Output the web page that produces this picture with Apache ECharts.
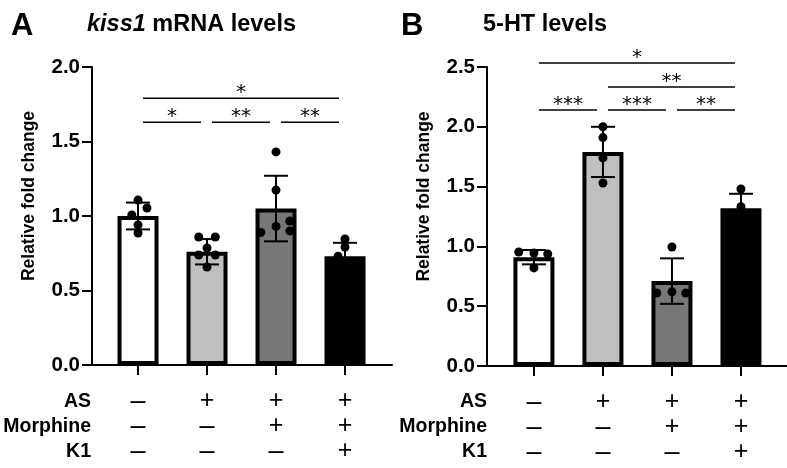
<!DOCTYPE html>
<html><head><meta charset="utf-8">
<script src="https://cdn.jsdelivr.net/npm/echarts@6/dist/echarts.min.js"></script>
<style>html,body{margin:0;padding:0;background:#fff}#c{width:787px;height:468px}</style>
</head><body><div id="c"></div>
<script>
// ---------- data ----------
const groups = [0, 1, 2, 3];
const rowNames = ['AS', 'Morphine', 'K1'];
const asRow = ['-', '+', '+', '+'];
const morphineRow = ['-', '-', '+', '+'];
const k1Row = ['-', '-', '-', '+'];

const titleA = 'kiss1 mRNA levels';
const titleB = '5-HT levels';
const yTickLabelsA = ['0.0', '0.5', '1.0', '1.5', '2.0'];
const yTickLabelsB = ['0.0', '0.5', '1.0', '1.5', '2.0', '2.5'];

const meanA = [1.00, 0.76, 1.05, 0.73];
const errA = [0.09, 0.085, 0.22, 0.09];
// [group, jitter, value]
const dotsA = [
  [0, 0, 1.107], [0, 0.13, 1.054], [0, -0.09, 1.007], [0, 0, 0.94], [0, 0, 0.886],
  [1, -0.12, 0.859], [1, 0.12, 0.859], [1, 0, 0.785], [1, -0.12, 0.738], [1, 0.12, 0.738], [1, 0, 0.658],
  [2, 0, 1.43], [2, 0, 1.174], [2, 0.2, 0.966], [2, 0, 0.93], [2, 0.2, 0.9], [2, -0.22, 0.89],
  [3, 0, 0.846], [3, 0, 0.792], [3, -0.1, 0.73], [3, 0.1, 0.66], [3, 0, 0.64]
];
// [from, to, y, label]
const sigA = [
  [0, 1, 1.63, '*'], [1, 2, 1.63, '**'], [2, 3, 1.63, '**'], [0, 3, 1.79, '*']
];

const meanB = [0.91, 1.79, 0.71, 1.32];
const errB = [0.06, 0.21, 0.19, 0.12];
const dotsB = [
  [0, -0.22, 0.953], [0, 0, 0.945], [0, 0.2, 0.936], [0, 0, 0.82],
  [1, 0, 2.0], [1, 0, 1.91], [1, 0, 1.74], [1, 0, 1.53],
  [2, 0, 0.995], [2, -0.22, 0.61], [2, 0, 0.62], [2, 0.2, 0.61],
  [3, 0, 1.48], [3, 0, 1.332], [3, -0.15, 1.25], [3, 0.15, 1.22]
];
const sigB = [
  [0, 1, 2.14, '***'], [1, 2, 2.14, '***'], [2, 3, 2.14, '**'], [1, 3, 2.333, '**'], [0, 3, 2.533, '*']
];

// ---------- style ----------
const FONT = '"Liberation Sans", Arial, Helvetica, sans-serif';
const barColors = ['#ffffff', '#bfbfbf', '#777777', '#000000'];

function errRender(params, api) {
  const x = api.value(0), m = api.value(1), e = api.value(2);
  const top = api.coord([x, m + e]), bot = api.coord([x, m - e]);
  const cap = 12;
  const st = { stroke: '#000', lineWidth: 2 };
  return { type: 'group', children: [
    { type: 'line', shape: { x1: top[0], y1: top[1], x2: bot[0], y2: bot[1] }, style: st },
    { type: 'line', shape: { x1: top[0] - cap, y1: top[1], x2: top[0] + cap, y2: top[1] }, style: st },
    { type: 'line', shape: { x1: bot[0] - cap, y1: bot[1], x2: bot[0] + cap, y2: bot[1] }, style: st }
  ]};
}
function makeSigRender(list) {
  return function (params, api) {
    const item = list[params.dataIndex];
    const p1 = api.coord([item[0], item[2]]), p2 = api.coord([item[1], item[2]]);
    const x1 = p1[0] + 5, x2 = p2[0] - 6, y = p1[1];
    return { type: 'group', children: [
      { type: 'line', shape: { x1: x1, y1: y, x2: x2, y2: y }, style: { stroke: '#000', lineWidth: 1.5 } },
      { type: 'text', x: (x1 + x2) / 2, y: y + 5, style: { text: item[3], fill: '#000',
        font: '20px "DejaVu Sans"', align: 'center', verticalAlign: 'bottom' } }
    ]};
  };
}

function xAxisCfg(gi, min, max) {
  return {
    type: 'value', gridIndex: gi, min: min, max: max,
    axisLine: { show: true, onZero: false, lineStyle: { color: '#000', width: 2 } },
    axisTick: { show: true, customValues: groups, length: 10, lineStyle: { color: '#000', width: 2 } },
    axisLabel: {
      customValues: groups, margin: 24, color: '#000',
      formatter: function (v) {
        const i = Math.round(v);
        return [asRow[i], morphineRow[i], k1Row[i]].map(s => s === '+' ? '{p|+}' : '{m|\u2013}').join('\n');
      },
      rich: {
        p: { fontSize: 25, lineHeight: 25, fontFamily: FONT, color: '#000' },
        m: { fontSize: 27, lineHeight: 25, fontFamily: FONT, color: '#000' }
      }
    },
    splitLine: { show: false }
  };
}
function yAxisCfg(gi, max, labels) {
  return {
    type: 'value', gridIndex: gi, min: 0, max: max, interval: 0.5,
    axisLine: { show: true, onZero: false, lineStyle: { color: '#000', width: 2 } },
    axisTick: { show: true, length: 10, lineStyle: { color: '#000', width: 2 } },
    axisLabel: { color: '#000', fontSize: 20.5, fontWeight: 'bold', fontFamily: FONT, margin: 12,
      formatter: (v, i) => labels[i] },
    splitLine: { show: false },
    name: 'Relative fold change', nameLocation: 'middle', nameGap: 54,
    nameTextStyle: { color: '#000', fontSize: 17.5, fontWeight: 'bold', fontFamily: FONT, padding: [0, 0, 0, 40] }
  };
}
function panelSeries(gi, means, errs, dots, sig) {
  return [
    { type: 'bar', xAxisIndex: gi, yAxisIndex: gi, barWidth: 41, z: 2,
      data: means.map((m, i) => ({ value: [groups[i], m], itemStyle: { color: barColors[i] } })),
      itemStyle: { borderColor: '#000', borderWidth: 4 } },
    { type: 'custom', xAxisIndex: gi, yAxisIndex: gi, z: 3, renderItem: errRender,
      data: means.map((m, i) => [groups[i], m, errs[i]]) },
    { type: 'scatter', xAxisIndex: gi, yAxisIndex: gi, z: 4, symbolSize: 9,
      itemStyle: { color: '#000', opacity: 1 },
      data: dots.map(d => [d[0] + d[1], d[2]]) },
    { type: 'custom', xAxisIndex: gi, yAxisIndex: gi, z: 5, clip: false, renderItem: makeSigRender(sig),
      data: sig.map(s => [s[0], s[1], s[2]]) }
  ];
}

const chart = echarts.init(document.getElementById('c'), null, { renderer: 'canvas' });
const rowGraphics = [];
[91, 487].forEach(rx => {
  rowNames.forEach((n, k) => {
    rowGraphics.push({ type: 'text', x: rx, y: 402 + k * 25,
      style: { text: n, fill: '#000', font: 'bold 19.5px ' + FONT, align: 'right', verticalAlign: 'middle' } });
  });
});
chart.setOption({
  animation: false,
  backgroundColor: '#fff',
  title: [
    { text: 'A', left: 11, top: 11, padding: 0, textStyle: { fontSize: 31, fontWeight: 'bold', fontFamily: FONT, color: '#000' } },
    { text: '{i|kiss1} mRNA levels', left: 87, top: 13, padding: 0,
      textStyle: { fontSize: 23.5, fontWeight: 'bold', fontFamily: FONT, color: '#000',
        rich: { i: { fontSize: 23.5, fontWeight: 'bold', fontStyle: 'italic', fontFamily: FONT, color: '#000' } } } },
    { text: 'B', left: 401, top: 11, padding: 0, textStyle: { fontSize: 31, fontWeight: 'bold', fontFamily: FONT, color: '#000' } },
    { text: titleB, left: 483, top: 13, padding: 0, textStyle: { fontSize: 23.5, fontWeight: 'bold', fontFamily: FONT, color: '#000' } }
  ],
  grid: [
    { left: 92, top: 67, width: 300, height: 298 },
    { left: 487, top: 67, width: 300, height: 299 }
  ],
  xAxis: [xAxisCfg(0, -0.667, 3.681), xAxisCfg(1, -0.68, 3.667)],
  yAxis: [yAxisCfg(0, 2, yTickLabelsA), yAxisCfg(1, 2.5, yTickLabelsB)],
  series: [].concat(panelSeries(0, meanA, errA, dotsA, sigA), panelSeries(1, meanB, errB, dotsB, sigB)),
  graphic: rowGraphics
});
</script></body></html>
